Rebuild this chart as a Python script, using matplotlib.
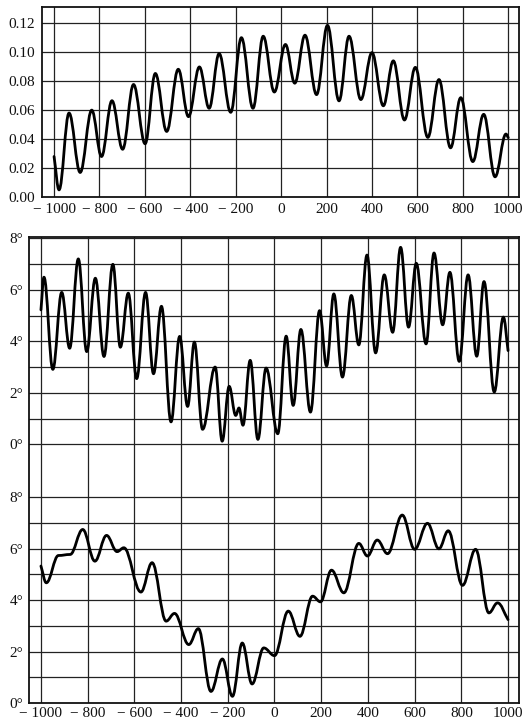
import matplotlib
matplotlib.use("Agg")
import matplotlib.pyplot as plt
from matplotlib.path import Path
from matplotlib.patches import PathPatch

plt.rcParams['font.family'] = ['Liberation Serif', 'DejaVu Serif']

# top panel: turning points of the curve (x, value)
top_x = [-1000, -978, -934, -885, -834, -791, -745, -698, -650, -599, -554, -504,
         -453, -408, -360, -317, -273, -222, -175, -124, -79, -30, 19, 60, 105,
         156, 204, 255, 299, 351, 400, 450, 494, 543, 591, 646, 695, 746, 791,
         844, 892, 942, 990, 1000]
top_y = [0.028, 0.005, 0.058, 0.017, 0.060, 0.028, 0.0665, 0.033, 0.0777, 0.0368,
         0.0853, 0.0453, 0.0882, 0.0555, 0.0898, 0.0613, 0.099, 0.0585, 0.110,
         0.0613, 0.111, 0.0725, 0.1053, 0.0786, 0.1117, 0.0707, 0.1185, 0.0664,
         0.111, 0.0673, 0.0997, 0.063, 0.094, 0.0532, 0.0895, 0.0412, 0.0811,
         0.034, 0.0686, 0.0245, 0.0571, 0.014, 0.0435, 0.041]

# bottom panel, upper curve (degrees)
up_x = [-1000, -987, -949, -911, -877, -840, -804, -767, -730, -692, -660, -626,
        -590, -552, -518, -484, -443, -406, -372, -343, -308, -254, -224, -194,
        -166, -152, -135, -104, -71, -36, 14, 50, 80, 113, 154, 193, 223, 254,
        291, 329, 361, 396, 433, 470, 506, 540, 574, 607, 649, 683, 720, 751,
        791, 829, 866, 897, 941, 980, 1000]
up_y = [5.22, 6.49, 2.91, 5.90, 3.73, 7.20, 3.60, 6.45, 3.41, 6.99, 3.77, 5.87,
        2.55, 5.90, 2.74, 5.36, 0.87, 4.19, 1.47, 3.97, 0.58, 3.00, 0.12, 2.25,
        1.12, 1.41, 0.74, 3.26, 0.19, 2.96, 0.41, 4.20, 1.51, 4.46, 1.25, 5.19,
        3.04, 5.84, 2.61, 5.78, 3.86, 7.35, 3.55, 6.58, 4.35, 7.65, 4.55, 7.03,
        3.90, 7.43, 4.64, 6.68, 3.22, 6.58, 3.42, 6.32, 2.03, 4.94, 3.64]

# bottom panel, lower curve (degrees)
lo_x = [-1000, -977, -925, -875, -821, -769, -719, -674, -645, -572, -524, -464,
        -428, -367, -326, -272, -223, -180, -138, -96, -46, 0, 59, 109, 163, 197,
        244, 297, 361, 398, 440, 484, 547, 600, 655, 704, 744, 805, 861, 918,
        955, 1000]
lo_y = [5.32, 4.67, 5.73, 5.77, 6.74, 5.51, 6.51, 5.88, 6.03, 4.31, 5.45, 3.18,
        3.48, 2.27, 2.89, 0.45, 1.71, 0.26, 2.33, 0.74, 2.14, 1.84, 3.57, 2.59,
        4.15, 3.93, 5.16, 4.28, 6.20, 5.71, 6.33, 5.80, 7.30, 5.97, 6.98, 5.99,
        6.69, 4.57, 5.97, 3.50, 3.89, 3.24]

x_ticks = list(range(-1000, 1001, 200))
x_labels = [("− %d" % -v) if v < 0 else str(v) for v in x_ticks]
top_ticks = [0.0, 0.02, 0.04, 0.06, 0.08, 0.10, 0.12]
deg_ticks = [0, 2, 4, 6, 8]
offset = 10.05  # upper curve is drawn above the lower one


def smooth(xs, ys, k=0.38):
    verts = [(xs[0], ys[0])]
    codes = [Path.MOVETO]
    n = len(xs)
    for i in range(n - 1):
        dx = xs[i + 1] - xs[i]
        dy = ys[i + 1] - ys[i]
        if i == 0:
            c1 = (xs[i] + k * dx, ys[i] + k * dy)
        else:
            c1 = (xs[i] + k * dx, ys[i])
        if i == n - 2:
            c2 = (xs[i + 1] - k * dx, ys[i + 1] - k * dy)
        else:
            c2 = (xs[i + 1] - k * dx, ys[i + 1])
        verts += [c1, c2, (xs[i + 1], ys[i + 1])]
        codes += [Path.CURVE4] * 3
    return Path(verts, codes)


def style(ax):
    ax.tick_params(length=0, labelsize=11, colors='#111111')
    for s in ax.spines.values():
        s.set_linewidth(1.3)
        s.set_color('#111111')


grid_kw = dict(color='#222222', lw=0.9, zorder=1)
curve_kw = dict(fill=False, edgecolor='black', lw=2.0, zorder=3,
                capstyle='round', joinstyle='round')

fig = plt.figure(figsize=(5.22, 7.22), dpi=100)

ax1 = fig.add_axes([0.0805, 0.727, 0.914, 0.263])
for v in x_ticks:
    ax1.axvline(v, **grid_kw)
for v in top_ticks[1:]:
    ax1.axhline(v, **grid_kw)
ax1.add_patch(PathPatch(smooth(top_x, top_y), **curve_kw))
ax1.set_xlim(-1053, 1048)
ax1.set_ylim(0, 0.131)
ax1.set_xticks(x_ticks)
ax1.set_xticklabels(x_labels)
ax1.set_yticks(top_ticks)
ax1.set_yticklabels(["%.2f" % v for v in top_ticks])
ax1.tick_params(axis='x', pad=4)
ax1.tick_params(axis='y', pad=5)
style(ax1)

ax2 = fig.add_axes([0.0556, 0.0263, 0.9387, 0.6454])
for v in x_ticks:
    ax2.axvline(v, **grid_kw)
for d in range(0, 9):
    if d > 0:
        ax2.axhline(d, **grid_kw)
    ax2.axhline(d + offset, **grid_kw)
ax2.add_patch(PathPatch(smooth(lo_x, lo_y), **curve_kw))
ax2.add_patch(PathPatch(smooth(up_x, [v + offset for v in up_y]), **curve_kw))
ax2.set_xlim(-1051, 1047)
ax2.set_ylim(0, 18.1)
ax2.set_xticks(x_ticks)
ax2.set_xticklabels(x_labels)
ax2.set_yticks(deg_ticks + [d + offset for d in deg_ticks])
ax2.set_yticklabels(["%d°" % d for d in deg_ticks] * 2)
ax2.tick_params(axis='x', pad=3)
ax2.tick_params(axis='y', pad=4)
style(ax2)

fig.savefig("out.png", dpi=100, facecolor='white')
